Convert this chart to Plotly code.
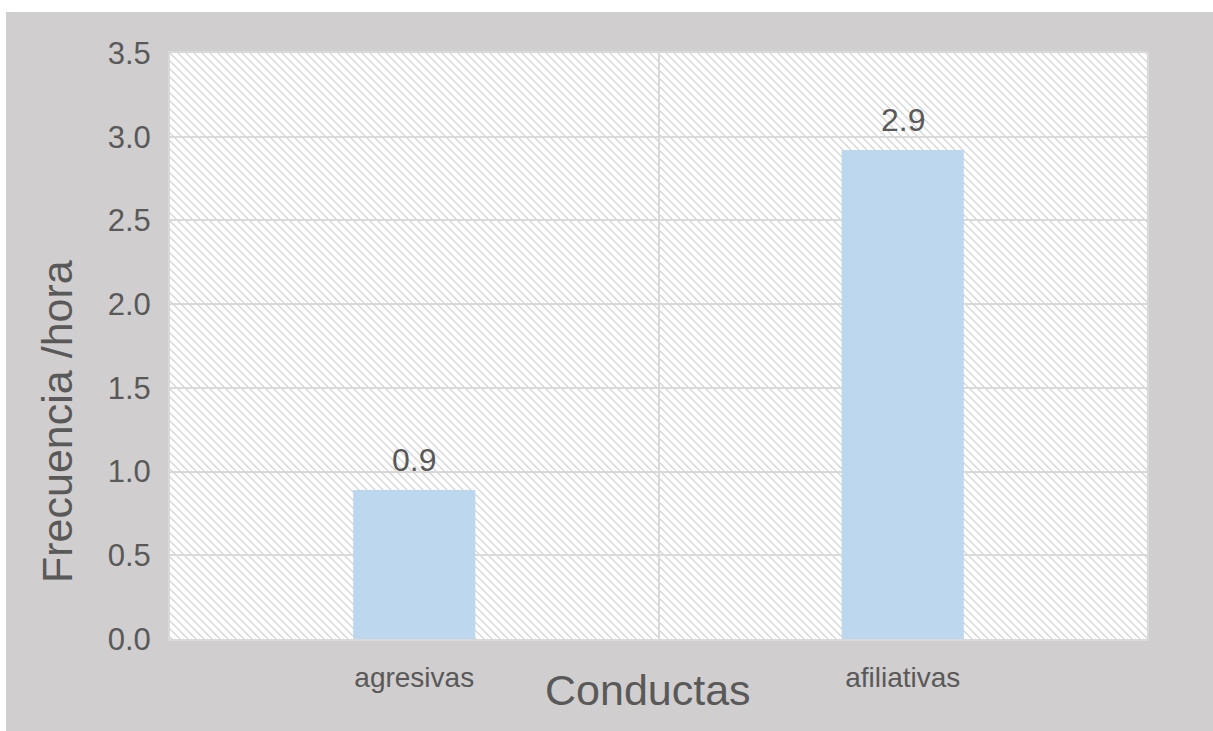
import base64
import plotly.graph_objects as go

categories = ["agresivas", "afiliativas"]
values = [0.89, 2.92]
y_ticks = [0.0, 0.5, 1.0, 1.5, 2.0, 2.5, 3.0, 3.5]
x_title = "Conductas"
y_title = "Frecuencia /hora"

TEXT = "#595959"
GRID = "#d9d9d9"
BAR = "#BDD7EE"
BG = "#D0CECE"
FONT = "Liberation Sans, Arial, sans-serif"

# hatch background for plot area
W, H = 977, 586
svg = (
    f'<svg xmlns="http://www.w3.org/2000/svg" width="{W}" height="{H}" viewBox="0 0 {W} {H}" preserveAspectRatio="none">'
    '<defs><pattern id="p" patternUnits="userSpaceOnUse" width="8" height="8">'
    '<path d="M-2,-2 L10,10 M-2,6 L2,10 M6,-2 L10,2" stroke="#d4d4d4" stroke-width="1.3"/>'
    '</pattern></defs>'
    f'<rect width="{W}" height="{H}" fill="white"/><rect width="{W}" height="{H}" fill="url(#p)"/></svg>'
)
src = "data:image/svg+xml;base64," + base64.b64encode(svg.encode()).decode()

fig = go.Figure()
fig.add_trace(go.Bar(x=categories, y=values, marker=dict(color=BAR, line=dict(width=0)),
                     width=0.25, showlegend=False, hoverinfo="skip"))

for c, v in zip(categories, values):
    fig.add_annotation(x=c, y=v, text=f"{v:.1f}", showarrow=False, yanchor="bottom",
                       yshift=10, font=dict(size=32, color=TEXT, family=FONT))

fig.add_annotation(xref="paper", yref="paper", x=0.489, y=-0.087, text=x_title,
                   xanchor="center", yanchor="middle",
                   showarrow=False, font=dict(size=43, color=TEXT, family=FONT))
fig.add_annotation(xref="paper", yref="paper", x=-0.1157, y=0.372, text=y_title,
                   xanchor="center", yanchor="middle",
                   textangle=-90, showarrow=False, font=dict(size=43, color=TEXT, family=FONT))

fig.add_layout_image(dict(source=src, xref="paper", yref="paper", x=0, y=1, sizex=1, sizey=1,
                          xanchor="left", yanchor="top", sizing="stretch", layer="below"))

# white strips at top and left edges of the picture
fig.add_shape(type="rect", xref="paper", yref="paper", x0=-0.2, x1=1.1, y0=1.07, y1=1.2,
              fillcolor="white", line=dict(width=0), layer="below")
fig.add_shape(type="rect", xref="paper", yref="paper", x0=-0.2, x1=-0.1679, y0=-0.2, y1=1.2,
              fillcolor="white", line=dict(width=0), layer="below")

fig.update_layout(
    width=1213, height=731, autosize=False,
    margin=dict(l=170, r=66, t=53, b=92),
    paper_bgcolor=BG, plot_bgcolor="white",
    font=dict(family=FONT, color=TEXT),
    bargap=0.75,
    xaxis=dict(type="category", range=[-0.5, 1.5], tickson="boundaries", showgrid=True,
               gridcolor=GRID, gridwidth=2, ticks="", showline=True, mirror=True,
               linecolor=GRID, linewidth=2, tickfont=dict(size=28, color=TEXT),
               ticklabelstandoff=12, zeroline=False),
    yaxis=dict(range=[0, 3.5], tickvals=y_ticks, tickformat=".1f", showgrid=True,
               gridcolor=GRID, gridwidth=2, ticks="", showline=True, mirror=True,
               linecolor=GRID, linewidth=2, tickfont=dict(size=31, color=TEXT),
               ticklabelstandoff=11, zeroline=False),
)

fig.write_html("out.html")
